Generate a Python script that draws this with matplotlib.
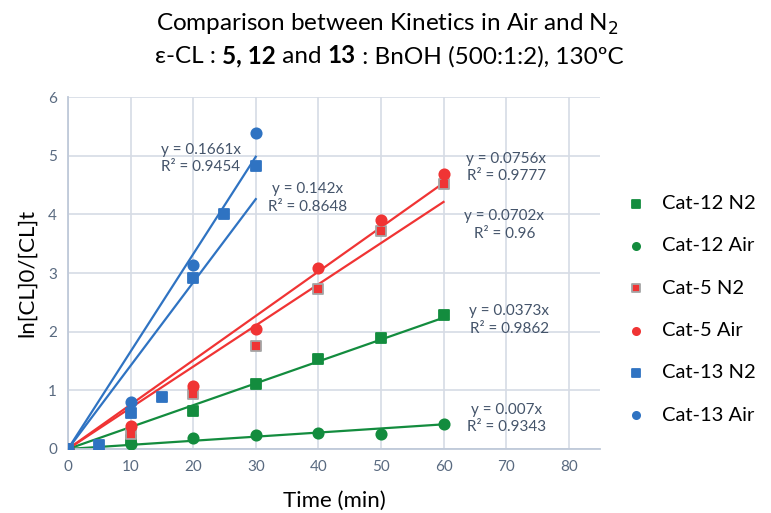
import matplotlib.pyplot as plt
import numpy as np

plt.rcParams['font.family'] = ['Lato', 'DejaVu Sans']

# data
t12_n2 = [0, 10, 20, 30, 40, 50, 60]
y12_n2 = [0, 0.15, 0.65, 1.10, 1.53, 1.89, 2.28]
t12_air = [0, 10, 20, 30, 40, 50, 60]
y12_air = [0, 0.08, 0.19, 0.24, 0.27, 0.26, 0.42]
t5_n2 = [0, 10, 20, 30, 40, 50, 60]
y5_n2 = [0, 0.25, 0.93, 1.75, 2.72, 3.72, 4.51]
t5_air = [0, 10, 20, 30, 40, 50, 60]
y5_air = [0, 0.39, 1.08, 2.04, 3.08, 3.90, 4.69]
t13_n2 = [0, 5, 10, 15, 20, 25, 30]
y13_n2 = [0, 0.06, 0.61, 0.89, 2.92, 4.01, 4.82]
t13_air = [0, 10, 20, 30]
y13_air = [0, 0.80, 3.13, 5.39]

# trendlines (through origin) and their labels
slopes = [0.0373, 0.007, 0.0702, 0.0756, 0.142, 0.1661]
r2 = ['0.9862', '0.9343', '0.96', '0.9777', '0.8648', '0.9454']
fit_end = [60, 60, 60, 60, 30, 30]
label_xy = [(70.5, 2.20), (70, 0.52), (69.7, 3.82), (70, 4.80), (38.3, 4.28), (21.2, 4.95)]

green = '#138C3E'
red = '#F03434'
blue = '#2F73C2'
txt = '#44546A'
tick_c = '#596A80'
grid_c = '#D6DCE5'

fig = plt.figure(figsize=(7.71, 5.13), dpi=100)
ax = fig.add_axes([0.0882, 0.1248, 0.690, 0.686])

series = [
    (t12_n2, y12_n2, 's', green, green, 'Cat-12 N2'),
    (t12_air, y12_air, 'o', green, green, 'Cat-12 Air'),
    (t5_n2, y5_n2, 's', red, '#A5A5A5', 'Cat-5 N2'),
    (t5_air, y5_air, 'o', red, red, 'Cat-5 Air'),
    (t13_n2, y13_n2, 's', blue, blue, 'Cat-13 N2'),
    (t13_air, y13_air, 'o', blue, blue, 'Cat-13 Air'),
]

handles = []
for i, (tx, ty, mk, col, ec, name) in enumerate(series):
    xs = np.array([0, fit_end[i]])
    ax.plot(xs, slopes[i] * xs, color=col, lw=1.6, zorder=2)
    h = ax.scatter(tx, ty, marker=mk, s=62 if mk == 's' else 55, color=col,
                   edgecolors=ec, linewidths=1.3, zorder=3, label=name)
    handles.append(h)
    lx, ly = label_xy[i]
    ax.text(lx, ly, 'y = %gx\nR² = %s' % (slopes[i], r2[i]), ha='center', va='center',
            fontsize=11, color=txt, linespacing=1.3, zorder=4)

ax.set_xlim(0, 85)
ax.set_ylim(0, 6)
ax.set_xticks(range(0, 81, 10))
ax.set_yticks(range(0, 7))
ax.grid(True, color=grid_c, lw=1.2)
ax.set_axisbelow(True)
for s in ['top', 'right']:
    ax.spines[s].set_visible(False)
for s in ['left', 'bottom']:
    ax.spines[s].set_color('#BFC9D9')
    ax.spines[s].set_linewidth(1.3)
ax.tick_params(length=0, labelsize=11, colors=tick_c, pad=8)

ax.set_xlabel('Time (min)', fontsize=16, color='black', labelpad=12)
ax.set_ylabel('ln[CL]0/[CL]t', fontsize=16, color='black', labelpad=8)

fig.legend(handles=handles, loc='upper left', bbox_to_anchor=(0.775, 0.655),
           frameon=False, fontsize=14.5, labelspacing=1.25, handletextpad=0.3,
           markerscale=0.7)

# title, first line
fig.text(0.502, 0.953, 'Comparison between Kinetics in Air and N$_2$', ha='center', va='center',
         fontsize=17.5)

# second line built from pieces (bold numbers), then centred
parts = [('ε-CL : ', 'normal'), ('5, 12', 'bold'), (' and ', 'normal'), ('13', 'bold'),
         (' : BnOH (500:1:2), 130ºC', 'normal')]
first = fig.text(0.2, 0.889, parts[0][0], fontsize=17.5, va='center', ha='left')
pieces = [first]
prev = first
for s, w in parts[1:]:
    prev = fig.add_artist(plt.Annotation(s, xy=(1, 0), xycoords=prev, va='bottom', ha='left',
                                         fontsize=17.5, fontweight=w))
    pieces.append(prev)

fig.canvas.draw()
r = fig.canvas.get_renderer()
x0 = pieces[0].get_window_extent(r).x0
x1 = pieces[-1].get_window_extent(r).x1
width = (x1 - x0) / fig.bbox.width
first.set_x(0.505 - width / 2)

fig.savefig('out.png', dpi=100)
